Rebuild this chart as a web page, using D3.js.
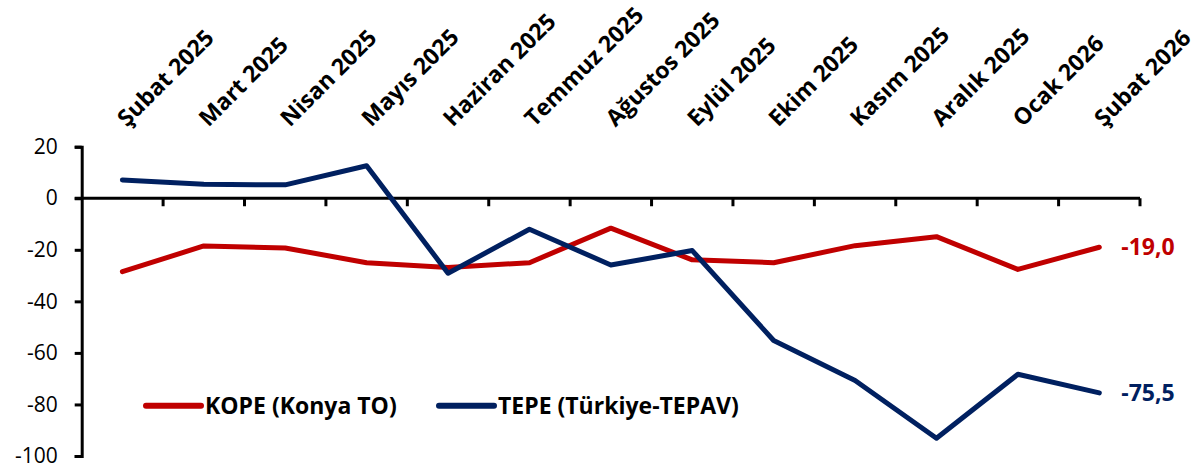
<!DOCTYPE html>
<html>
<head>
<meta charset="utf-8">
<script src="https://cdn.jsdelivr.net/npm/d3@7"></script>
<style>
  html, body { margin: 0; padding: 0; background: #fff; }
  svg { display: block; font-family: "Open Sans", sans-serif; }
</style>
</head>
<body>
<svg id="chart" width="1198" height="473"></svg>
<script>
const categories = [
  'Şubat 2025', 'Mart 2025', 'Nisan 2025', 'Mayıs 2025', 'Haziran 2025',
  'Temmuz 2025', 'Ağustos 2025', 'Eylül 2025', 'Ekim 2025', 'Kasım 2025',
  'Aralık 2025', 'Ocak 2026', 'Şubat 2026'
];
const kope = [-28.5, -18.5, -19.3, -25, -26.9, -25, -11.6, -23.9, -25, -18.4, -14.9, -27.6, -19.0];
const tepe = [7.1, 5.4, 5.2, 12.6, -29.1, -12.0, -25.9, -20.3, -55.2, -70.7, -93.1, -68.3, -75.5];
const yTicks = [20, 0, -20, -40, -60, -80, -100];
const seriesNames = ['KOPE (Konya TO)', 'TEPE (Türkiye-TEPAV)'];
const endLabels = ['-19,0', '-75,5'];
const colors = ['#C00000', '#002060'];

const svg = d3.select('#chart');

const x = d3.scaleBand()
  .domain(categories)
  .range([81.7, 1140]);

const y = d3.scaleLinear()
  .domain([-100, 20])
  .range([456, 146.7]);

const xc = d => x(d) + x.bandwidth() / 2;

// EJE Y
const yAxis = svg.append('g')
  .attr('transform', `translate(${x.range()[0]},0)`)
  .call(d3.axisLeft(y)
    .tickValues(yTicks)
    .tickSize(7)
    .tickSizeOuter(7)
    .tickPadding(17)
    .tickFormat(d => String(d)));
yAxis.selectAll('path, line').attr('stroke', '#000').attr('stroke-width', 3);
yAxis.selectAll('text')
  .attr('fill', '#000')
  .style('font-size', '21px')
  .style('font-family', '"Open Sans", sans-serif');

// EJE X (linea de cero)
const y0 = y(0);
svg.append('line')
  .attr('x1', x.range()[0] - 7)
  .attr('x2', x.range()[1])
  .attr('y1', y0)
  .attr('y2', y0)
  .attr('stroke', '#000')
  .attr('stroke-width', 3);

const boundaries = d3.range(1, categories.length + 1).map(i => x.range()[0] + i * x.step());
svg.selectAll('.xtick')
  .data(boundaries)
  .join('line')
  .attr('class', 'xtick')
  .attr('x1', d => d)
  .attr('x2', d => d)
  .attr('y1', y0)
  .attr('y2', y0 + 8)
  .attr('stroke', '#000')
  .attr('stroke-width', 3);

// ETIQUETAS X
svg.selectAll('.xlabel')
  .data(categories)
  .join('text')
  .attr('class', 'xlabel')
  .attr('transform', d => `translate(${xc(d) - 1},${122}) rotate(-45)`)
  .attr('dy', '0.35em')
  .attr('text-anchor', 'start')
  .style('font-size', '23px')
  .style('font-weight', 'bold')
  .text(d => d);

// LINEAS
const line = d3.line()
  .x((d, i) => xc(categories[i]))
  .y(d => y(d));

[kope, tepe].forEach((series, k) => {
  svg.append('path')
    .attr('d', line(series))
    .attr('fill', 'none')
    .attr('stroke', colors[k])
    .attr('stroke-width', 5)
    .attr('stroke-linejoin', 'round')
    .attr('stroke-linecap', 'round');

  const last = series.length - 1;
  svg.append('text')
    .attr('x', xc(categories[last]) + 22)
    .attr('y', y(series[last]))
    .attr('dy', '0.35em')
    .attr('fill', colors[k])
    .style('font-size', '23px')
    .style('font-weight', 'bold')
    .text(endLabels[k]);
});

// LEYENDA
const legendX = [146, 439];
const legendY = 405.7;
seriesNames.forEach((name, k) => {
  svg.append('line')
    .attr('x1', legendX[k])
    .attr('x2', legendX[k] + 55)
    .attr('y1', legendY)
    .attr('y2', legendY)
    .attr('stroke', colors[k])
    .attr('stroke-width', 6)
    .attr('stroke-linecap', 'round');
  svg.append('text')
    .attr('x', legendX[k] + 59)
    .attr('y', legendY)
    .attr('dy', '0.35em')
    .attr('fill', '#000')
    .style('font-size', '23px')
    .style('font-weight', 'bold')
    .text(name);
});
</script>
</body>
</html>
